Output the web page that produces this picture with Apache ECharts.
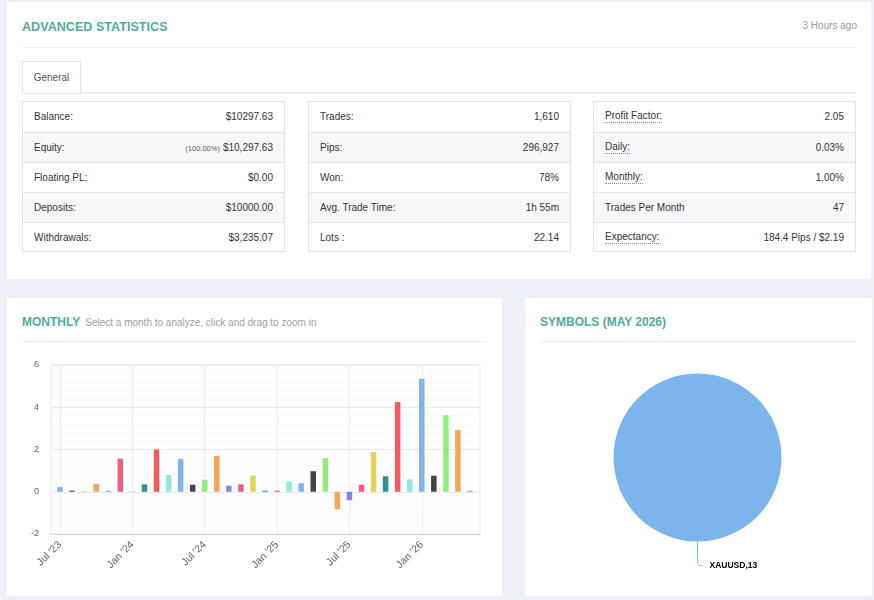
<!DOCTYPE html>
<html><head><meta charset="utf-8">
<script src="https://cdn.jsdelivr.net/npm/echarts@6/dist/echarts.min.js"></script>
<style>
html,body{margin:0;padding:0;}
body{width:874px;height:600px;background:#eef0f7;position:relative;overflow:hidden;font-family:"Liberation Sans",Arial,sans-serif;color:#333;}
.card{position:absolute;background:#fff;}
.abs{position:absolute;white-space:nowrap;}
.title{font-weight:bold;color:#4eae9a;font-size:12.6px;line-height:14px;}
.sub{font-weight:normal;color:#a0a0a0;font-size:10px;margin-left:5px;}
.sep{position:absolute;height:1px;background:#f0f0f3;}
.tbl{position:absolute;top:101px;width:263px;height:151px;box-sizing:border-box;border:1px solid #e2e2e6;}
.row{height:30px;box-sizing:border-box;position:relative;font-size:10px;line-height:29px;color:#333;}
.row+.row{border-top:1px solid #e4e4e8;}
.row.alt{background:#f8f8fb;}
.row .l{position:absolute;left:11px;top:0;}
.row .v{position:absolute;right:11px;top:0;}
.row .l.dot{line-height:12px;top:8px;border-bottom:1px dotted #8a8a8a;}
.note{font-size:7.5px;color:#555;margin-right:3px;}
</style></head>
<body>
<div class="card" style="left:7px;top:2px;width:864px;height:277px;"></div>
<div class="card" style="left:7px;top:298px;width:495px;height:298px;"></div>
<div class="card" style="left:525px;top:298px;width:347px;height:298px;"></div>

<div class="abs title" style="left:22px;top:20px;">ADVANCED STATISTICS</div>
<div class="abs" style="right:17px;top:20px;font-size:10px;line-height:12px;color:#9a9a9a;">3 Hours ago</div>
<div class="sep" style="left:22px;top:47px;width:834px;"></div>
<div class="abs" style="left:22px;top:61px;width:59px;height:32px;box-sizing:border-box;border:1px solid #e2e2e6;border-bottom:none;background:#fff;font-size:10px;line-height:31px;text-align:center;color:#555;z-index:2;">General</div>
<div class="abs" style="left:22px;top:92px;width:834px;height:2px;background:#f0f0f3;"></div>

<div id="t1" class="tbl" style="left:22px;"></div>
<div id="t2" class="tbl" style="left:308px;"></div>
<div id="t3" class="tbl" style="left:593px;"></div>

<div class="abs title" style="left:22px;top:315px;font-size:12px;">MONTHLY<span class="sub">Select a month to analyze, click and drag to zoom in</span></div>
<div class="sep" style="left:22px;top:341px;width:464px;"></div>
<div class="abs title" style="left:540px;top:315px;font-size:12px;">SYMBOLS (MAY 2026)</div>
<div class="sep" style="left:540px;top:341px;width:316px;"></div>

<div id="bar" style="position:absolute;left:7px;top:345px;width:495px;height:251px;"></div>
<div id="pie" style="position:absolute;left:525px;top:345px;width:347px;height:251px;"></div>

<script>
// ---- data ----
const statsCol1Labels = ["Balance:", "Equity:", "Floating PL:", "Deposits:", "Withdrawals:"];
const statsCol1Values = ["$10297.63", "$10,297.63", "$0.00", "$10000.00", "$3,235.07"];
const statsCol1Notes  = ["", "(100.00%)", "", "", ""];
const statsCol2Labels = ["Trades:", "Pips:", "Won:", "Avg. Trade Time:", "Lots :"];
const statsCol2Values = ["1,610", "296,927", "78%", "1h 55m", "22.14"];
const statsCol3Labels = ["Profit Factor:", "Daily:", "Monthly:", "Trades Per Month", "Expectancy:"];
const statsCol3Values = ["2.05", "0.03%", "1.00%", "47", "184.4 Pips / $2.19"];
const statsCol3Dotted = [true, true, true, false, true];

const months = ["2023-07","2023-08","2023-09","2023-10","2023-11","2023-12",
  "2024-01","2024-02","2024-03","2024-04","2024-05","2024-06",
  "2024-07","2024-08","2024-09","2024-10","2024-11","2024-12",
  "2025-01","2025-02","2025-03","2025-04","2025-05","2025-06",
  "2025-07","2025-08","2025-09","2025-10","2025-11","2025-12",
  "2026-01","2026-02","2026-03","2026-04","2026-05"];
const monthlyValues = [0.22, 0.05, 0.03, 0.37, 0.04, 1.56,
  0.03, 0.35, 2.00, 0.79, 1.55, 0.33,
  0.57, 1.70, 0.29, 0.35, 0.76, 0.05,
  0.05, 0.49, 0.40, 0.97, 1.59, -0.83,
  -0.40, 0.33, 1.87, 0.73, 4.25, 0.59,
  5.35, 0.76, 3.62, 2.92, 0.04];
const tickMonths = ["2023-07","2024-01","2024-07","2025-01","2025-07","2026-01"];
const tickLabels = ["Jul '23","Jan '24","Jul '24","Jan '25","Jul '25","Jan '26"];
const palette = ['#7cb5ec','#434348','#90ed7d','#f7a35c','#8085e9','#f15c80','#e4d354','#2b908f','#f45b5b','#91e8e1'];

const pieNames = ["XAUUSD"];
const pieValues = [13];

// ---- tables ----
function buildTable(id, labels, values, notes, dotted) {
  const el = document.getElementById(id);
  labels.forEach((lab, i) => {
    const row = document.createElement('div');
    row.className = 'row' + (i % 2 === 1 ? ' alt' : '');
    const l = document.createElement('span');
    l.className = 'l' + (dotted && dotted[i] ? ' dot' : '');
    l.textContent = lab;
    const v = document.createElement('span');
    v.className = 'v';
    if (notes && notes[i]) {
      const n = document.createElement('span');
      n.className = 'note';
      n.textContent = notes[i];
      v.appendChild(n);
    }
    v.appendChild(document.createTextNode(values[i]));
    row.appendChild(l); row.appendChild(v);
    el.appendChild(row);
  });
}
buildTable('t1', statsCol1Labels, statsCol1Values, statsCol1Notes, null);
buildTable('t2', statsCol2Labels, statsCol2Values, null, null);
buildTable('t3', statsCol3Labels, statsCol3Values, null, statsCol3Dotted);

// ---- monthly bar chart ----
const tickValues = tickMonths.map(m => months.indexOf(m));
const barChart = echarts.init(document.getElementById('bar'), null, {renderer: 'canvas'});
barChart.setOption({
  animation: false,
  textStyle: {fontFamily: '"Liberation Sans", Arial, sans-serif'},
  grid: {left: 44, right: 22, top: 20, height: 169, show: true, borderColor: '#e9e9ee', borderWidth: 1, containLabel: false},
  xAxis: {
    type: 'value', min: -0.75, max: 34.83,
    axisLine: {show: true, onZero: false, lineStyle: {color: '#ccd6eb', width: 1}},
    axisTick: {show: false, customValues: tickValues},
    axisLabel: {customValues: tickValues, rotate: 45, margin: 9, color: '#666', fontSize: 10.5,
      formatter: v => { const i = tickValues.indexOf(Math.round(v)); return i >= 0 ? tickLabels[i] : ''; }},
    splitLine: {show: true, lineStyle: {color: '#ececf1', width: 1}}
  },
  yAxis: {
    type: 'value', min: -2, max: 6, interval: 2,
    axisLine: {show: false}, axisTick: {show: false},
    axisLabel: {color: '#666', fontSize: 9, margin: 12},
    splitLine: {show: true, lineStyle: {color: '#e9e9ee'}},
    minorTick: {show: false, splitNumber: 5},
    minorSplitLine: {show: true, lineStyle: {color: '#f8f8fa'}}
  },
  series: [{
    type: 'bar',
    barWidth: 5.5,
    data: monthlyValues.map((v, i) => [i, v]),
    itemStyle: {color: p => palette[p.dataIndex % palette.length]}
  }]
});

// ---- symbols pie ----
const pieChart = echarts.init(document.getElementById('pie'), null, {renderer: 'canvas'});
pieChart.setOption({
  animation: false,
  textStyle: {fontFamily: '"Liberation Sans", Arial, sans-serif'},
  series: [{
    type: 'pie',
    radius: 84,
    center: [172.5, 112.5],
    startAngle: 90,
    clockwise: true,
    color: palette,
    data: pieNames.map((n, i) => ({name: n, value: pieValues[i]})),
    label: {formatter: '{b},{c}', fontWeight: 'bold', fontSize: 8.5, color: '#000', distanceToLabelLine: 7},
    labelLine: {length: 24, length2: 5, smooth: 0.3, lineStyle: {color: '#7cb5ec', width: 1}},
    itemStyle: {borderColor: '#fff', borderWidth: 0}
  }]
});
</script>
</body></html>
